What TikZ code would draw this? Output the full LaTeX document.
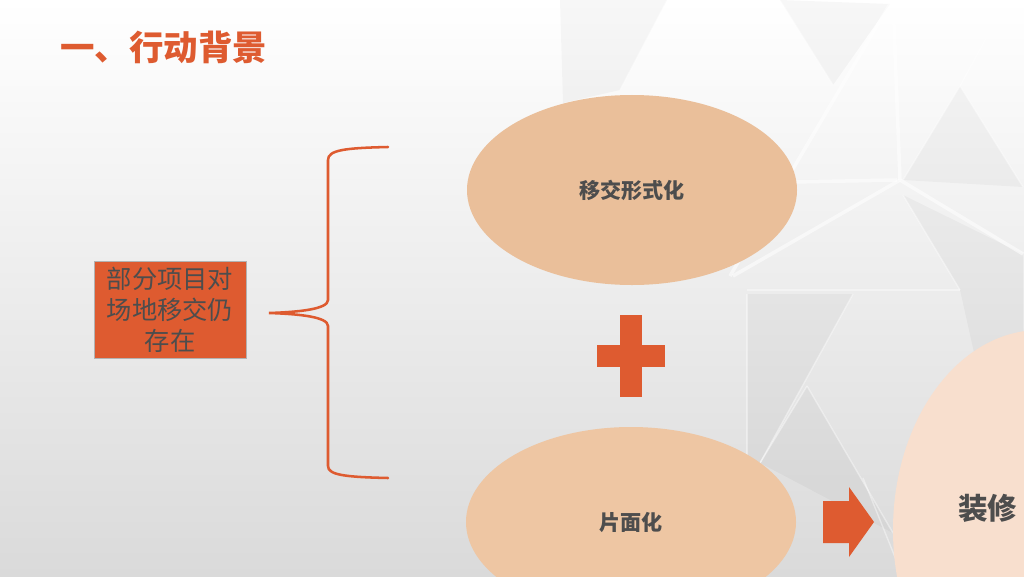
\documentclass[tikz,border=0pt]{standalone}
\usepackage{fontspec}
\newfontfamily\cjk{Noto Sans CJK SC}
\usetikzlibrary{shapes.geometric}

\definecolor{naranja}{RGB}{222,91,48}
\definecolor{durazno}{RGB}{234,191,154}
\definecolor{duraznoclaro}{RGB}{238,198,163}
\definecolor{rosado}{RGB}{248,223,206}
\definecolor{texto}{RGB}{77,77,77}

\tikzset{
	caja/.style={fill=naranja, draw=gray!60, line width=0.5pt, inner sep=0pt,
		minimum width=38mm, minimum height=24.25mm, align=center,
		text=texto, font=\cjk\fontsize{18}{22}\selectfont},
	elipse/.style={ellipse, inner sep=0pt, minimum width=82.5mm, minimum height=47.5mm,
		text=texto, font=\cjk\bfseries\fontsize{15}{18}\selectfont},
	llave/.style={naranja, line width=1.8pt, line cap=round},
	linea/.style={white, opacity=0.55, line width=2.5pt},
	lineafina/.style={white, opacity=0.4, line width=1pt},
	sombra/.style={black, opacity=0.03}
}

\begin{document}
\begin{tikzpicture}[x=0.25mm, y=-0.25mm]

	\useasboundingbox (0,0) rectangle (1024,576);
	\clip (0,0) rectangle (1024,576);

% Fondo
	\shade[top color=white, bottom color={rgb,255:red,218;green,218;blue,218}]
		(0,0) rectangle (1024,576);

	\foreach \p in {{(560,0) -- (667,0) -- (620,90) -- (563,103)},
			{(780,0) -- (890,4) -- (833,85)},
			{(903,195) -- (1023,254) -- (1024,576) -- (960,290)},
			{(747,294) -- (853,294) -- (760,463) -- (747,576)},
			{(807,386) -- (893,533) -- (760,463)},
			{(960,86) -- (1023,187) -- (903,180)}}
		\fill[sombra] \p -- cycle;

	\foreach \a/\b in {{(890,4)}/{(730,276)}, {(893,0)}/{(900,180)}, {(900,180)}/{(733,276)},
			{(900,180)}/{(1023,254)}, {(793,182)}/{(897,180)}}
		\draw[linea] \a -- \b;

	\foreach \a/\b in {{(667,0)}/{(620,90)}, {(780,0)}/{(833,85)}, {(903,195)}/{(960,290)},
			{(747,290)}/{(960,290)}, {(747,294)}/{(747,576)}, {(960,86)}/{(903,180)},
			{(960,86)}/{(1023,187)}, {(1007,0)}/{(960,86)}, {(853,294)}/{(760,463)},
			{(807,386)}/{(893,533)}, {(807,386)}/{(760,463)}, {(863,478)}/{(897,562)}}
		\draw[lineafina] \a -- \b;

% Titulo
	\node[anchor=west, inner sep=0pt, text=naranja,
		font=\cjk\bfseries\fontsize{24.5}{28}\selectfont] (titulo) at (60,47) {一、行动背景};

% Problema y llave
	\node[caja] (problema) at (170,310) {部分项目对\\场地移交仍\\存在};

	\coordinate (llave-arriba) at (388,147);
	\coordinate (llave-punta) at (269,313);
	\coordinate (llave-abajo) at (388,478);
	\draw[llave] (llave-arriba) .. controls (345,148) and (328,150) .. (328,160)
		-- (328,300) .. controls (328,309) and (300,312) .. (llave-punta)
		.. controls (300,314) and (328,317) .. (328,326)
		-- (328,466) .. controls (328,475) and (345,477) .. (llave-abajo);

% Causas
	\node[elipse, fill=durazno] (formal) at (632,190) {移交形式化};
	\node[elipse, fill=duraznoclaro] (parcial) at (631,522) {片面化};

	\fill[naranja] (620,315) rectangle (642,397);
	\fill[naranja] (597,345) rectangle (665,367);

% Resultado
	\fill[naranja] (823,501) -- (849,501) -- (849,487) -- (874,522)
		-- (849,557) -- (849,543) -- (823,543) -- cycle;

	\node[ellipse, fill=rosado, inner sep=0pt, minimum width=73.5mm,
		minimum height=100mm] (resultado) at (1040,530) {};
	\node[anchor=west, inner sep=0pt, text=texto,
		font=\cjk\bfseries\fontsize{21}{24}\selectfont] (decoracion) at (958,508) {装修};

\end{tikzpicture}
\end{document}
